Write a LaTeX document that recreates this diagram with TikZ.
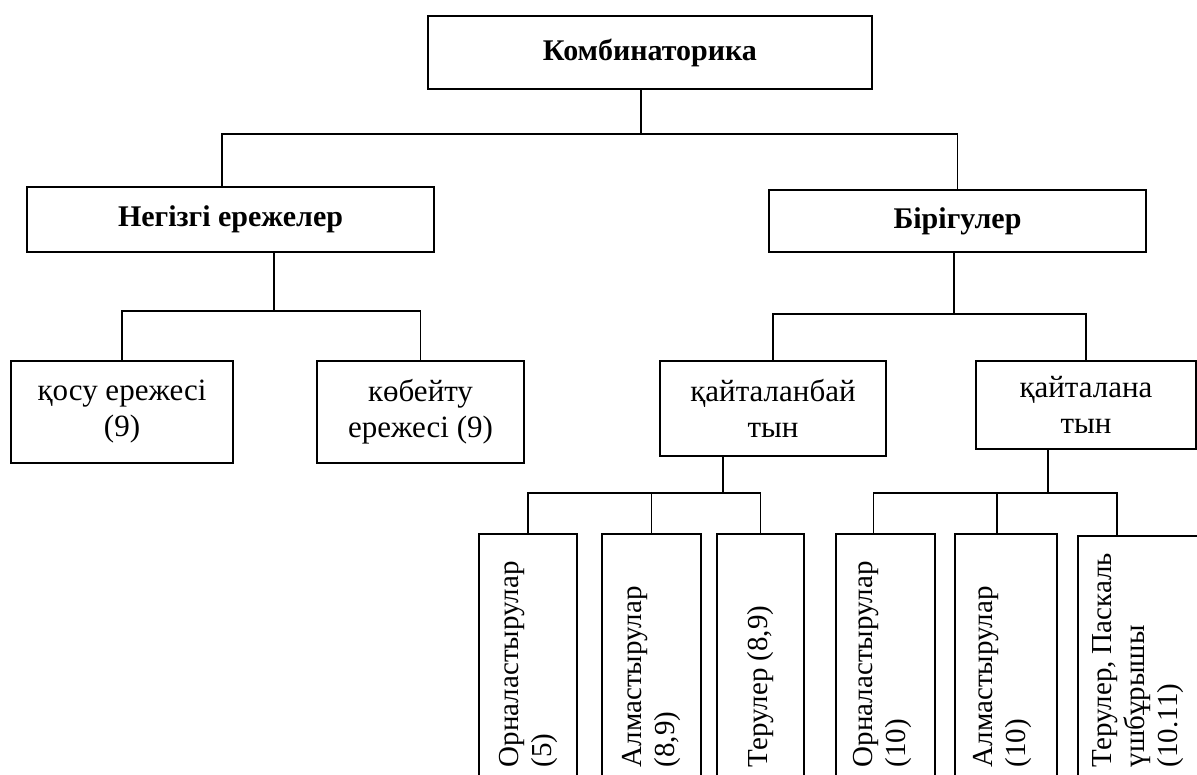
\documentclass[tikz,border=0pt]{standalone}
\usepackage{fontspec}
\setmainfont{Liberation Serif}
\begin{document}
\begin{tikzpicture}[x=1pt,y=-1pt,line width=1.7pt,
  box/.style={draw,line width=2.2pt,align=center,inner sep=0pt,font=\fontsize{31}{36}\selectfont},
  head/.style={box,font=\fontsize{30}{34}\selectfont\bfseries},
  leaf/.style={draw,line width=2.2pt,minimum height=300pt,anchor=north,inner sep=0pt},
  vtext/.style={rotate=90,anchor=west,align=left,inner sep=2pt,font=\fontsize{29}{33}\selectfont}]
\useasboundingbox (0,0) rectangle (1197,774);
\clip (0,0) rectangle (1197,774);
% top levels
\node[head,minimum width=444pt,minimum height=73pt] (komb) at (650,52.5) {Комбинаторика};
\node[head,minimum width=407pt,minimum height=65pt] (negiz) at (230.5,219.5) {Негізгі ережелер};
\node[head,minimum width=377pt,minimum height=62pt] (birig) at (957.5,221) {Бірігулер};
\node[box,minimum width=222pt,minimum height=102pt] (kosu) at (122,412) {қосу ережесі\\(9)};
\node[box,minimum width=207pt,minimum height=102pt] (kobeit) at (420.5,412) {көбейту\\ережесі (9)};
\node[box,minimum width=226pt,minimum height=95pt] (qtb) at (773,408.5) {қайталанбай\\тын};
\node[box,minimum width=220pt,minimum height=88pt] (qt) at (1086,405) {қайталана\\тын};
% bottom boxes (cut by the page edge)
\node[leaf,minimum width=98pt] (o1) at (528,533) {};
\node[leaf,minimum width=99pt] (a1) at (651.5,533) {};
\node[leaf,minimum width=87pt] (t1) at (760.5,533) {};
\node[leaf,minimum width=99pt] (o2) at (885.5,533) {};
\node[leaf,minimum width=102pt] (a2) at (1006,533) {};
\node[leaf,minimum width=152pt] (t2) at (1154,535) {};
\node[vtext] (o1t) at (528,770) {Орналастырулар\\(5)};
\node[vtext] (a1t) at (651.5,770) {Алмастырулар\\(8,9)};
\node[vtext] (t1t) at (760.5,770) {Терулер (8,9)};
\node[vtext] (o2t) at (882,770) {Орналастырулар\\(10)};
\node[vtext] (a2t) at (1003,770) {Алмастырулар\\(10)};
\node[vtext] (t2t) at (1138,770) {Терулер, Паскаль\\үшбұрышы\\(10.11)};
% connectors
\draw (komb.south -| 641,0) -- ++(0,44) coordinate (j1);
\draw (negiz.north -| 222,0) |- (j1) -| (birig.north);
\draw (negiz.south -| 274,0) -- ++(0,58) coordinate (j2);
\draw (kosu.north) |- (j2) -| (kobeit.north);
\draw (birig.south -| 954,0) -- ++(0,61) coordinate (j3);
\draw (qtb.north) |- (j3) -| (qt.north);
\draw (qtb.south -| 723,0) -- ++(0,36) coordinate (j4);
\draw (o1.north) |- (j4) -| (t1.north);
\draw (a1.north) -- (a1.north |- j4);
\draw (qt.south -| 1048,0) -- ++(0,43) coordinate (j5);
\draw ([xshift=-12pt]o2.north) |- (j5) -| ([xshift=-37pt]t2.north);
\draw ([xshift=-9pt]a2.north) -- ([xshift=-9pt]a2.north |- j5);
\end{tikzpicture}
\end{document}
